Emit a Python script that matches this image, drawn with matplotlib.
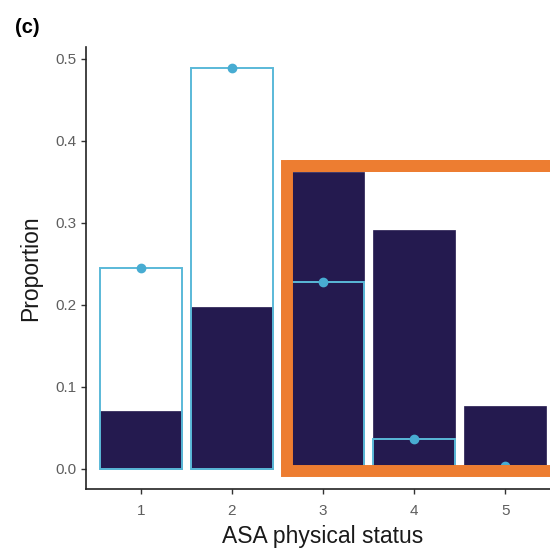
import matplotlib.pyplot as plt

plt.rcParams['font.family'] = ['Liberation Sans', 'DejaVu Sans']

# ASA physical status categories
asa = [1, 2, 3, 4, 5]
# filled (dark) bars and outlined bars with dots
prop_dark = [0.071, 0.198, 0.362, 0.291, 0.077]
prop_outline = [0.245, 0.489, 0.228, 0.036, 0.003]
yticks = [0.0, 0.1, 0.2, 0.3, 0.4, 0.5]

dark = '#241a4f'
light = '#5ab9d8'
dot = '#48acd2'
orange = '#ed7d31'

fig = plt.figure(figsize=(5.5, 5.48), dpi=100)
ax = fig.add_axes([0.1564, 0.1077, 0.862, 0.8066])

ax.bar(asa, prop_dark, width=0.9, color=dark, edgecolor=dark, linewidth=0.5, zorder=2)
ax.bar(asa, prop_outline, width=0.9, facecolor='none', edgecolor=light, linewidth=1.4, zorder=3)
ax.plot(asa, prop_outline, 'o', color=dot, markersize=6, linestyle='none', zorder=4)

# highlight box around categories 3-5 (drawn as a line that overlaps its start so the corner is filled)
x0, x1 = 2.605, 5.52
y0, y1 = -0.003, 0.3695
ax.plot([x0, x1, x1, x0, x0, x1], [y1, y1, y0, y0, y1, y1], color=orange,
        linewidth=8.6, solid_joinstyle='miter', solid_capstyle='butt',
        zorder=5, clip_on=False)

ax.set_xlim(0.4, 5.6)
ax.set_ylim(-0.0245, 0.5145)
ax.set_xticks(asa)
ax.set_yticks(yticks)
ax.set_yticklabels([f'{v:.1f}' for v in yticks])
ax.tick_params(colors='#333333', labelcolor='#5e5e5e', labelsize=11, length=3.5, width=1)
ax.tick_params(axis='x', pad=7)
ax.tick_params(axis='y', pad=3)
for s in ['top', 'right']:
    ax.spines[s].set_visible(False)
for s in ['left', 'bottom']:
    ax.spines[s].set_linewidth(1.2)
    ax.spines[s].set_color('#222222')

ax.set_xlabel('ASA physical status', fontsize=16.5, color='#1a1a1a', labelpad=5)
ax.set_ylabel('Proportion', fontsize=16.5, color='#1a1a1a', labelpad=10)

fig.text(0.027, 0.968, '(c)', fontsize=14.5, fontweight='bold', va='top', ha='left')

fig.savefig('out.png', dpi=100)
